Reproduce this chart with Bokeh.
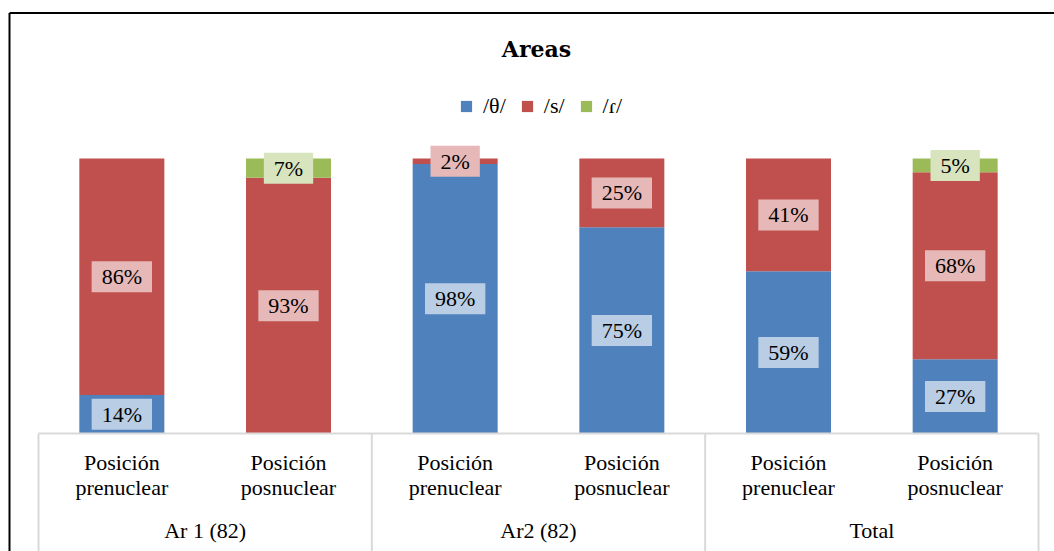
from bokeh.plotting import figure
from bokeh.models import (Range1d, LinearAxis, FixedTicker, ColumnDataSource, Legend,
                          LegendItem, Label)
from bokeh.core.properties import value
from bokeh.embed import file_html
from bokeh.resources import INLINE

# ---- data ----
groups = ["Ar 1 (82)", "Ar2 (82)", "Total"]
positions = ["Posición\nprenuclear", "Posición\nposnuclear"]
series = ["/θ/", "/s/", "/ɾ/"]
theta = [14, 0, 98, 75, 59, 27]
s_vals = [86, 93, 2, 25, 41, 68]
tap = [0, 7, 0, 0, 0, 5]
title_text = "Areas"

colors = ["#4F81BD", "#C0504D", "#9BBB59"]
label_bg = ["#B9CDE5", "#E6B9B8", "#D7E4BD"]

# ---- geometry (screen px of the chart) ----
W, H = 1054, 551
n = len(groups) * len(positions)
px_per_x = 1000 / n
x_start = -38 / px_per_x
x_end = x_start + W / px_per_x
px_per_y = 2.75
y_end = 433 / px_per_y
y_start = -(H - 433) / px_per_y

xs = [i + 0.5 for i in range(n)]
src = ColumnDataSource(dict(x=xs, t=theta, s=s_vals, r=tap))

p = figure(width=W, height=H, x_range=Range1d(x_start, x_end), y_range=Range1d(y_start, y_end),
           output_backend="svg", toolbar_location=None, x_axis_location=None,
           y_axis_location=None, min_border=0, tools="")
p.grid.visible = False
p.outline_line_color = None
p.background_fill_color = "white"
p.border_fill_color = "white"

rs = p.vbar_stack(["t", "s", "r"], x="x", width=0.51, color=colors, line_color=None, source=src)

# labels
FONT = "Liberation Serif"
vals = [theta, s_vals, tap]
for k in range(3):
    lx, ly, lt = [], [], []
    for i in range(n):
        v = vals[k][i]
        if v <= 0:
            continue
        base = sum(vals[j][i] for j in range(k))
        lx.append(xs[i])
        ly.append(base + v / 2)
        lt.append(f"{v}%")
    p.text(x=lx, y=ly, text=lt, text_align="center", text_baseline="middle",
           text_font=value(FONT), text_font_size="22px", text_color="black",
           background_fill_color=label_bg[k], padding=(10, 3))

# axes
sub_ticks = xs
sub_labels = {xs[i]: positions[i % len(positions)] for i in range(n)}
ax1 = LinearAxis(ticker=FixedTicker(ticks=sub_ticks), major_label_overrides=sub_labels,
                 fixed_location=0, bounds=(0, n), axis_line_color="#D9D9D9", axis_line_width=2,
                 major_tick_line_color=None, minor_tick_line_color=None,
                 major_label_standoff=10, major_label_text_font=FONT,
                 major_label_text_font_size="22px", major_label_text_color="black",
                 major_label_text_line_height=1.0)
p.add_layout(ax1, "below")

gsize = len(positions)
g_ticks = [g * gsize + gsize / 2 for g in range(len(groups))]
ax2 = LinearAxis(ticker=FixedTicker(ticks=g_ticks),
                 major_label_overrides={g_ticks[g]: groups[g] for g in range(len(groups))},
                 fixed_location=0, axis_line_color=None,
                 major_tick_line_color=None, minor_tick_line_color=None,
                 major_label_standoff=78, major_label_text_font=FONT,
                 major_label_text_font_size="22px", major_label_text_color="black")
p.add_layout(ax2, "below")

# group separators
sep_x = [g * gsize for g in range(len(groups) + 1)]
p.segment(x0=sep_x, x1=sep_x, y0=[0] * len(sep_x), y1=[y_start] * len(sep_x),
          line_color="#D9D9D9", line_width=2)

# chart border (left & top)
bx = x_start + 9 / px_per_x
by = y_end - 12.5 / px_per_y
p.segment(x0=[bx, bx], y0=[y_start, by], x1=[bx, x_end], y1=[by, by],
          line_color="black", line_width=2)

# title
p.add_layout(Label(x=536, y=H - 48, x_units="screen", y_units="screen", text=title_text,
                   text_align="center", text_baseline="middle", text_font="DejaVu Serif",
                   text_font_style="bold", text_font_size="22px", text_color="black"))

# legend
legend = Legend(items=[LegendItem(label=series[k], renderers=[rs[k]]) for k in range(3)],
                orientation="horizontal", location=(459, 432), glyph_width=14, glyph_height=14,
                label_standoff=10, spacing=14, padding=0, margin=0, border_line_color=None,
                background_fill_alpha=0, label_text_font=FONT, label_text_font_size="22px",
                label_text_color="black", label_height=20)
p.add_layout(legend)

open("out.html", "w").write(file_html(p, INLINE))
